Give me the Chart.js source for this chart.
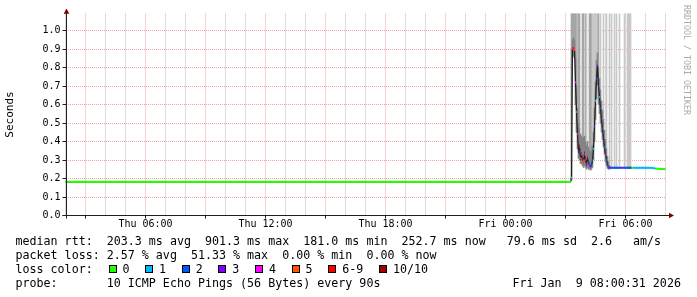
<!DOCTYPE html>
<html><head><meta charset="utf-8">
<script src="https://cdn.jsdelivr.net/npm/chart.js@4.4.0/dist/chart.umd.min.js"></script>
<style>
html,body{margin:0;padding:0;background:#fff;}
#wrap{position:relative;width:697px;height:297px;overflow:hidden;background:#fff;}
#c{position:absolute;left:0;top:0;}
.t{position:absolute;font-family:'DejaVu Sans Mono',monospace;font-size:11.66px;line-height:14px;white-space:pre;color:#000;}
.box{position:absolute;width:8px;height:8px;box-sizing:border-box;border:1px solid #000;}
#wm{position:absolute;left:682px;top:5px;font-family:'DejaVu Sans Mono',monospace;font-size:8.3px;line-height:10px;writing-mode:vertical-rl;color:#aaa;white-space:pre;}
</style></head>
<body><div id="wrap"><canvas id="c" width="697" height="297"></canvas>
<div id="legend"></div>
<div id="wm">RRDTOOL / TOBI OETIKER</div></div>
<script>
// ---- time axis: hours since Thu 02:00 ----
const tickHours  = [4, 10, 16, 22, 28];
const tickLabels = ['Thu 06:00', 'Thu 12:00', 'Thu 18:00', 'Fri 00:00', 'Fri 06:00'];

// ---- median RTT (seconds) and loss (pings lost of 10) ----
const medTimes = [0,
  25.25, 25.30, 25.35, 25.40, 25.45, 25.50, 25.55, 25.60, 25.65, 25.70,
  25.75, 25.80, 25.85, 25.90, 25.95, 26.00, 26.05, 26.10, 26.15, 26.20,
  26.25, 26.30, 26.35, 26.40, 26.45, 26.50, 26.55, 26.60, 26.65, 26.70,
  26.75, 26.80, 26.85, 26.90, 26.95, 27.00, 27.05, 27.10, 27.15,
  27.25, 27.75, 27.85, 28.30, 28.40, 29.25, 29.50, 30.00];
const medValues = [0.182,
  0.182, 0.205, 0.900, 0.905, 0.895, 0.72, 0.56, 0.44, 0.35, 0.37,
  0.31, 0.33, 0.30, 0.29, 0.33, 0.30, 0.28, 0.31, 0.29, 0.27,
  0.265, 0.27, 0.30, 0.36, 0.48, 0.62, 0.74, 0.81, 0.70, 0.64,
  0.58, 0.52, 0.47, 0.42, 0.37, 0.33, 0.30, 0.275, 0.260,
  0.258, 0.258, 0.258, 0.258, 0.258, 0.258, 0.254, 0.250];
const medLoss = [0,
  0, 1, 4, 6, 5, 4, 5, 4, 3, 6,
  5, 4, 6, 5, 4, 4, 3, 6, 2, 4,
  3, 2, 2, 1, 3, 1, 2, 3, 2, 1,
  2, 3, 2, 3, 2, 4, 2, 2, 2,
  3, 2, 3, 2, 0, 1, 1, 0];

// ---- smoke (ping spread, seconds) ----
const smokeTimes = [
  25.30, 25.35, 25.40, 25.45, 25.50, 25.55, 25.60, 25.65, 25.70, 25.75,
  25.80, 25.85, 25.90, 25.95, 26.00, 26.05, 26.10, 26.15, 26.20, 26.25,
  26.30, 26.35, 26.40, 26.45, 26.50, 26.55, 26.60, 26.65, 26.70, 26.75,
  26.80, 26.85, 26.90, 26.95, 27.00, 27.05, 27.10, 27.15, 27.20,
  27.30, 27.45, 27.55, 27.70, 27.95, 28.10, 28.15, 28.20, 28.25];
const smokeLow = [
  0.19, 0.86, 0.86, 0.85, 0.60, 0.45, 0.36, 0.31, 0.30, 0.28,
  0.28, 0.27, 0.26, 0.27, 0.26, 0.25, 0.26, 0.25, 0.25, 0.245,
  0.25, 0.26, 0.30, 0.40, 0.52, 0.63, 0.70, 0.60, 0.55, 0.50,
  0.45, 0.41, 0.37, 0.33, 0.29, 0.27, 0.255, 0.25, 0.25,
  0.255, 0.255, 0.255, 0.255, 0.255, 0.255, 0.255, 0.255, 0.255];
const smokeMid = [
  0.90, 0.95, 0.96, 0.95, 0.85, 0.70, 0.58, 0.50, 0.47, 0.44,
  0.43, 0.42, 0.42, 0.43, 0.40, 0.38, 0.40, 0.37, 0.35, 0.34,
  0.35, 0.38, 0.45, 0.58, 0.72, 0.84, 0.88, 0.80, 0.74, 0.68,
  0.62, 0.57, 0.52, 0.46, 0.41, 0.36, 0.32, 0.29, 0.27,
  0.262, 0.262, 0.262, 0.262, 0.262, 0.262, 0.262, 0.262, 0.262];
const smokeMax = [
  1.8, 1.8, 1.8, 1.8, 1.8, 1.8, 1.8, 1.8, 1.8, null,
  null, 1.8, 1.8, null, 1.8, 1.8, null, null, 1.8, 1.8,
  1.8, 1.8, 1.8, 1.8, 1.8, 1.8, 1.8, 1.8, null, 1.8,
  null, null, 1.8, null, null, 1.8, null, null, 1.8,
  1.8, 1.8, 1.8, 1.8, 1.8, 1.8, 1.8, 1.8, 1.8];
const smokeOutliers = [
  2, 2, 2, 2, 2, 2, 1, 2, 2, 0,
  0, 2, 2, 0, 2, 1, 0, 0, 2, 2,
  2, 1, 1, 1, 1, 1, 1, 2, 0, 1,
  0, 0, 1, 0, 0, 1, 0, 0, 1,
  1, 1, 1, 1, 1, 1, 1, 1, 1];

// ---- statistics text ----
const rttStats  = [203.3, 901.3, 181.0, 252.7, 79.6]; // avg max min now sd (ms)
const amPerSec  = 2.6;
const lossStats = [2.57, 51.33, 0.00, 0.00];          // avg max min now (%)
const lossLegendLabels = ['0', '1', '2', '3', '4', '5', '6-9', '10/10'];
const lossLegendLevels = [0, 1, 2, 3, 4, 5, 6, 10];
const probeText = '10 ICMP Echo Pings (56 Bytes) every 90s';
const dateText  = 'Fri Jan  9 08:00:31 2026';

// ---- styles ----
const lossColors = {0:'#26ff00',1:'#00b8ff',2:'#0059ff',3:'#7e00ff',4:'#ff00ff',5:'#ff5500',6:'#ff0000',7:'#ff0000',8:'#ff0000',9:'#ff0000',10:'#a10000'};
const MAJOR = 'rgba(220,80,80,0.5)';
const MINOR = 'rgba(130,130,130,0.55)';
const MONO = "'DejaVu Sans Mono', monospace";

Chart.defaults.font.family = MONO;

const medData = medTimes.map((t, i) => ({x: t, y: medValues[i]}));
const innerData = smokeTimes.map((t, i) => ({x: t, y: [smokeLow[i], smokeMid[i]]}));
const outerIdx = smokeTimes.map((t, i) => i).filter(i => smokeMax[i] != null);
const outerData = outerIdx.map(i => ({x: smokeTimes[i], y: [smokeMid[i], smokeMax[i]]}));
const outerColors = outerIdx.map(i => smokeOutliers[i] >= 2 ? '#a6a6a6' : '#c8c8c8');

const dense = i => {
  const p = i > 0 ? medTimes[i] - medTimes[i - 1] : 99;
  const n = i < medTimes.length - 1 ? medTimes[i + 1] - medTimes[i] : 99;
  return Math.min(p, n) < 0.06;
};

const rrdAxes = {
  id: 'rrdAxes',
  afterDraw(chart) {
    const {ctx, chartArea: a} = chart;
    const x0 = Math.round(a.left) + 0.5;
    const y0 = Math.round(a.bottom) - 0.5;
    ctx.save();
    ctx.strokeStyle = '#202020';
    ctx.lineWidth = 1;
    ctx.beginPath();
    ctx.moveTo(x0, a.bottom + 3); ctx.lineTo(x0, a.top - 1);
    ctx.moveTo(a.left - 3, y0); ctx.lineTo(a.right + 4, y0);
    ctx.stroke();
    ctx.fillStyle = '#7f0000';
    ctx.beginPath();
    ctx.moveTo(x0, a.top - 5); ctx.lineTo(x0 - 2.8, a.top + 0.2); ctx.lineTo(x0 + 2.8, a.top + 0.2); ctx.closePath();
    ctx.fill();
    ctx.beginPath();
    ctx.moveTo(a.right + 8.5, y0); ctx.lineTo(a.right + 3.5, y0 - 2.8); ctx.lineTo(a.right + 3.5, y0 + 2.8); ctx.closePath();
    ctx.fill();
    ctx.restore();
  }
};

new Chart(document.getElementById('c'), {
  type: 'bar',
  data: {
    datasets: [
      {
        type: 'line', label: 'loss color', data: medData, order: 0,
        borderWidth: 2, borderColor: lossColors[0], tension: 0,
        segment: {
          borderColor: c => Math.abs(medValues[c.p1DataIndex] - medValues[c.p0DataIndex]) > 0.012
            ? 'rgba(0,0,0,0)' : lossColors[medLoss[c.p1DataIndex]]
        },
        pointStyle: 'line', pointRotation: 90, pointBorderWidth: 1, pointHoverRadius: 0,
        pointRadius: c => dense(c.dataIndex) ? 1 : 0,
        pointBorderColor: c => lossColors[medLoss[c.dataIndex]]
      },
      {
        type: 'line', label: 'median rtt', data: medData, order: 1,
        borderWidth: 1.2, borderColor: '#202020', pointRadius: 0, tension: 0
      },
      {
        type: 'bar', label: 'smoke', data: innerData, order: 2, grouped: false,
        backgroundColor: '#858585', borderWidth: 0, barPercentage: 1, categoryPercentage: 1
      },
      {
        type: 'bar', label: 'smoke outliers', data: outerData, order: 3, grouped: false,
        backgroundColor: outerColors, borderWidth: 0, barPercentage: 1, categoryPercentage: 1
      }
    ]
  },
  options: {
    responsive: false, animation: false, devicePixelRatio: 1,
    layout: {padding: {left: 0, top: 13.5, right: 31.5, bottom: 61.5}},
    plugins: {legend: {display: false}, tooltip: {enabled: false}},
    events: [],
    scales: {
      x: {
        type: 'linear', min: 0, max: 30, offset: false,
        afterFit: s => { s.height = 20; },
        grid: {
          offset: false, lineWidth: 1, tickLength: 3,
          color: c => ((c.tick.value + 2) % 3 === 0 ? MAJOR : MINOR),
          tickColor: c => ((c.tick.value + 2) % 3 === 0 ? '#202020' : 'rgba(0,0,0,0)')
        },
        border: {display: false, dash: [1, 1]},
        ticks: {
          stepSize: 1, autoSkip: false, maxRotation: 0, minRotation: 0, padding: 0,
          color: '#000', font: {family: MONO, size: 10},
          callback: v => { const i = tickHours.indexOf(v); return i >= 0 ? tickLabels[i] : ''; }
        }
      },
      y: {
        type: 'linear', min: 0, max: 1.092,
        afterFit: s => { s.width = 65.5; },
        grid: {lineWidth: 1, tickLength: 3, color: MAJOR, tickColor: '#202020'},
        border: {display: false, dash: [1, 1]},
        ticks: {
          stepSize: 0.1, includeBounds: false, padding: 2,
          color: '#000', font: {family: MONO, size: 10},
          callback: v => v.toFixed(1)
        },
        title: {display: true, text: 'Seconds', color: '#000', font: {family: MONO, size: 11}, padding: {top: 4, bottom: 0}}
      }
    }
  },
  plugins: [rrdAxes]
});

// ---- text legend below the graph ----
const f = (v, w, d) => v.toFixed(d).padStart(w);
const line1 = 'median rtt:  ' + f(rttStats[0], 5, 1) + ' ms avg  ' + f(rttStats[1], 5, 1) + ' ms max  ' +
  f(rttStats[2], 5, 1) + ' ms min  ' + f(rttStats[3], 5, 1) + ' ms now  ' + f(rttStats[4], 5, 1) + ' ms sd  ' +
  f(amPerSec, 3, 1) + '   am/s';
const line2 = 'packet loss: ' + lossStats[0].toFixed(2) + ' % avg  ' + lossStats[1].toFixed(2) + ' % max  ' +
  lossStats[2].toFixed(2) + ' % min  ' + lossStats[3].toFixed(2) + ' % now';
const line4 = 'probe:       ' + probeText;
const L = 15.5, CW = 7.02, ROW0 = 234, RH = 14.1;
const leg = document.getElementById('legend');
function addText(txt, x, y) {
  const d = document.createElement('div');
  d.className = 't'; d.textContent = txt;
  d.style.left = x + 'px'; d.style.top = y + 'px';
  leg.appendChild(d);
}
addText(line1, L, ROW0);
addText(line2, L, ROW0 + RH);
addText('loss color:', L, ROW0 + 2 * RH);
addText(line4, L, ROW0 + 3 * RH);
addText(dateText, 512.5, ROW0 + 3 * RH);
let bx = 108.5;
lossLegendLabels.forEach((lab, i) => {
  const b = document.createElement('div');
  b.className = 'box';
  b.style.left = bx + 'px'; b.style.top = (ROW0 + 2 * RH + 3) + 'px';
  b.style.background = lossColors[lossLegendLevels[i]];
  leg.appendChild(b);
  addText(lab, bx + 14, ROW0 + 2 * RH);
  bx = bx + 14 + lab.length * CW + 15.6;
});
</script></body></html>
